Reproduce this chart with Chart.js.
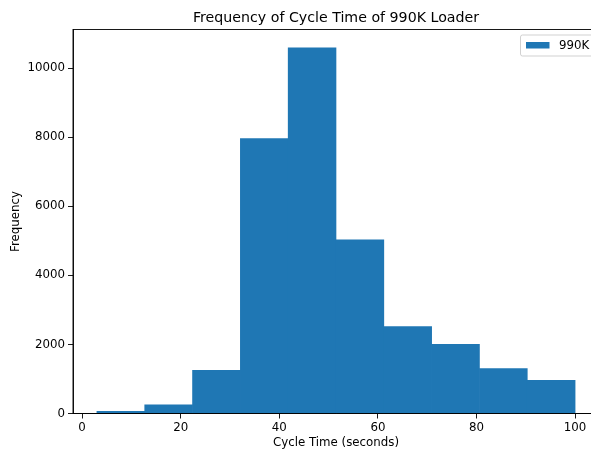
<!DOCTYPE html>
<html>
<head>
<meta charset="utf-8">
<script src="https://cdn.jsdelivr.net/npm/chart.js@4/dist/chart.umd.min.js"></script>
<style>
  html, body { margin: 0; padding: 0; background: #fff; overflow: hidden; }
  #wrap { width: 591px; height: 454px; overflow: hidden; }
</style>
</head>
<body>
<div id="wrap"><canvas id="hist" width="610" height="454"></canvas></div>
<script>
// histogram data: 10 bins from 3 to 100 seconds
const binEdges = [3, 12.7, 22.4, 32.1, 41.8, 51.5, 61.2, 70.9, 80.6, 90.3, 100];
const counts = [65, 250, 1250, 7960, 10590, 5030, 2520, 2000, 1300, 960];
const xTicks = [0, 20, 40, 60, 80, 100];
const yTicks = [0, 2000, 4000, 6000, 8000, 10000];
const seriesLabel = '990K';

const FONT = "'DejaVu Sans', sans-serif";
const FS = 11.8;
const BLUE = '#1f77b4';

const points = counts.map((c, i) => ({ x: (binEdges[i] + binEdges[i + 1]) / 2, y: c }));

// matplotlib style margins
const span = binEdges[binEdges.length - 1] - binEdges[0];
const xMin = binEdges[0] - span * 0.05;
const xMax = binEdges[binEdges.length - 1] + span * 0.05;
const yMax = Math.max(...counts) * 1.05;

// frame, title and legend drawn like matplotlib
const mplDecor = {
  id: 'mplDecor',
  afterDraw(chart) {
    const { ctx, chartArea: a } = chart;
    ctx.save();
    ctx.strokeStyle = '#000';
    ctx.lineWidth = 0.9;
    ctx.strokeRect(a.left, a.top, a.right - a.left, a.bottom - a.top);

    ctx.fillStyle = '#000';
    ctx.font = '14.2px ' + FONT;
    ctx.textAlign = 'center';
    ctx.textBaseline = 'middle';
    ctx.fillText('Frequency of Cycle Time of 990K Loader', (a.left + a.right) / 2, 18);

    // legend box (upper right)
    const bx = a.right - 78.5, by = a.top + 5.5, bw = 73, bh = 21;
    ctx.beginPath();
    ctx.roundRect(bx, by, bw, bh, 2);
    ctx.fillStyle = 'rgba(255,255,255,0.8)';
    ctx.fill();
    ctx.strokeStyle = '#cccccc';
    ctx.lineWidth = 0.9;
    ctx.stroke();
    ctx.fillStyle = BLUE;
    ctx.fillRect(bx + 5.5, by + 7, 23.5, 6.5);
    ctx.fillStyle = '#000';
    ctx.font = FS + 'px ' + FONT;
    ctx.textAlign = 'left';
    ctx.fillText(seriesLabel, bx + 38.5, by + 10.5);
    ctx.restore();
  }
};

new Chart(document.getElementById('hist'), {
  type: 'bar',
  data: {
    datasets: [{
      label: seriesLabel,
      data: points,
      backgroundColor: BLUE,
      borderWidth: 0,
      barPercentage: 1,
      categoryPercentage: 1
    }]
  },
  options: {
    responsive: false,
    devicePixelRatio: 1,
    animation: false,
    layout: { padding: { top: 29.5, right: 11, left: 0, bottom: 0 } },
    plugins: {
      legend: { display: false },
      tooltip: { enabled: false },
      title: { display: false }
    },
    scales: {
      x: {
        type: 'linear',
        min: xMin,
        max: xMax,
        offset: false,
        grid: { offset: false, drawOnChartArea: false, tickLength: 5, tickColor: '#000', tickWidth: 0.9 },
        border: { display: true, color: '#000', width: 0.9 },
        afterBuildTicks: s => { s.ticks = xTicks.map(v => ({ value: v })); },
        ticks: { color: '#000', font: { family: FONT, size: FS }, padding: 2.5, maxRotation: 0, callback: v => String(v) },
        title: { display: true, text: 'Cycle Time (seconds)', color: '#000', font: { family: FONT, size: FS }, padding: { top: 0, bottom: 3.9 } },
        afterFit: s => { s.height = 40.5; }
      },
      y: {
        min: 0,
        max: yMax,
        grid: { drawOnChartArea: false, tickLength: 5, tickColor: '#000', tickWidth: 0.9 },
        border: { display: true, color: '#000', width: 0.9 },
        afterBuildTicks: s => { s.ticks = yTicks.map(v => ({ value: v })); },
        ticks: { color: '#000', font: { family: FONT, size: FS }, padding: 3, callback: v => String(v) },
        title: { display: true, text: 'Frequency', color: '#000', font: { family: FONT, size: FS }, padding: { top: 8.9, bottom: 0 } },
        afterFit: s => { s.width = 73; }
      }
    }
  },
  plugins: [mplDecor]
});
</script>
</body>
</html>
